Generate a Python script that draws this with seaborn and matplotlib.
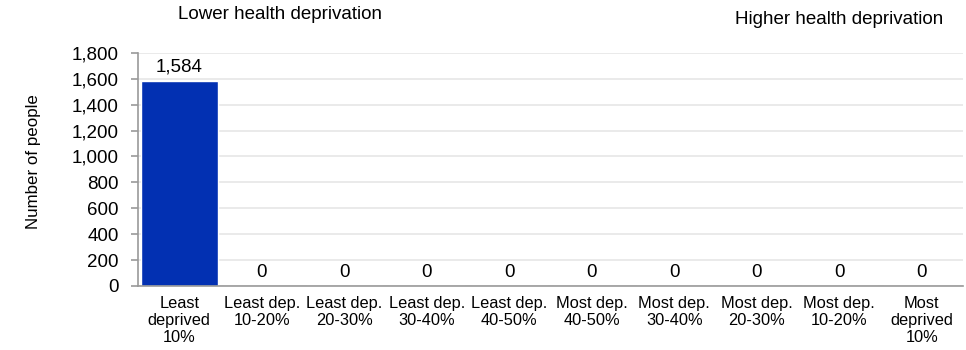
import pandas as pd
import seaborn as sns
import matplotlib.pyplot as plt

categories = ["Least\ndeprived\n10%", "Least dep.\n10-20%", "Least dep.\n20-30%",
              "Least dep.\n30-40%", "Least dep.\n40-50%", "Most dep.\n40-50%",
              "Most dep.\n30-40%", "Most dep.\n20-30%", "Most dep.\n10-20%",
              "Most\ndeprived\n10%"]
people = [1584, 0, 0, 0, 0, 0, 0, 0, 0, 0]
y_ticks = [0, 200, 400, 600, 800, 1000, 1200, 1400, 1600, 1800]

df = pd.DataFrame({"decile": categories, "people": people})

sns.set_style("white")
plt.rcParams["font.family"] = ["Liberation Sans", "DejaVu Sans"]
plt.rcParams["text.color"] = "black"
plt.rcParams["xtick.labelcolor"] = "black"
plt.rcParams["ytick.labelcolor"] = "black"

fig = plt.figure(figsize=(9.66, 3.5), dpi=100)
ax = fig.add_axes([0.1429, 0.183, 0.854, 0.666])

sns.barplot(data=df, x="decile", y="people", color="#0230B2", saturation=1,
            width=0.93, ax=ax)

ax.set_ylim(0, 1800)
ax.set_xlim(-0.5, len(categories) - 0.5)
ax.set_yticks(y_ticks)
ax.set_yticklabels([f"{v:,}" for v in y_ticks], fontsize=13.5)
ax.yaxis.grid(True, color="#E6E6E6", linewidth=1.2)
ax.set_axisbelow(True)

# category labels in the middle, ticks at the boundaries
ax.set_xticks(range(len(categories)))
ax.set_xticklabels(categories, fontsize=11.8, linespacing=1.2)
ax.tick_params(axis="x", length=0, pad=7)
ax.set_xticks([i + 0.5 for i in range(-1, len(categories))], minor=True)
ax.tick_params(axis="x", which="minor", length=5, color="#999999", width=1.2)
ax.tick_params(axis="y", length=5, color="#999999", width=1.2, pad=9, left=True)

for s in ["top", "right"]:
    ax.spines[s].set_visible(False)
for s in ["left", "bottom"]:
    ax.spines[s].set_color("#999999")
    ax.spines[s].set_linewidth(1.2)

for i, v in enumerate(people):
    ax.text(i, v + 40, f"{v:,}", ha="center", va="bottom", fontsize=13.5)

ax.set_xlabel("")
ax.set_ylabel("")
fig.text(0.035, 0.537, "Number of people", fontsize=12.2, rotation=90,
         ha="center", va="center")

fig.text(0.184, 0.945, "Lower health deprivation", fontsize=13.5, ha="left")
fig.text(0.976, 0.93, "Higher health deprivation", fontsize=13.5, ha="right")

fig.savefig("out.png", dpi=100)
